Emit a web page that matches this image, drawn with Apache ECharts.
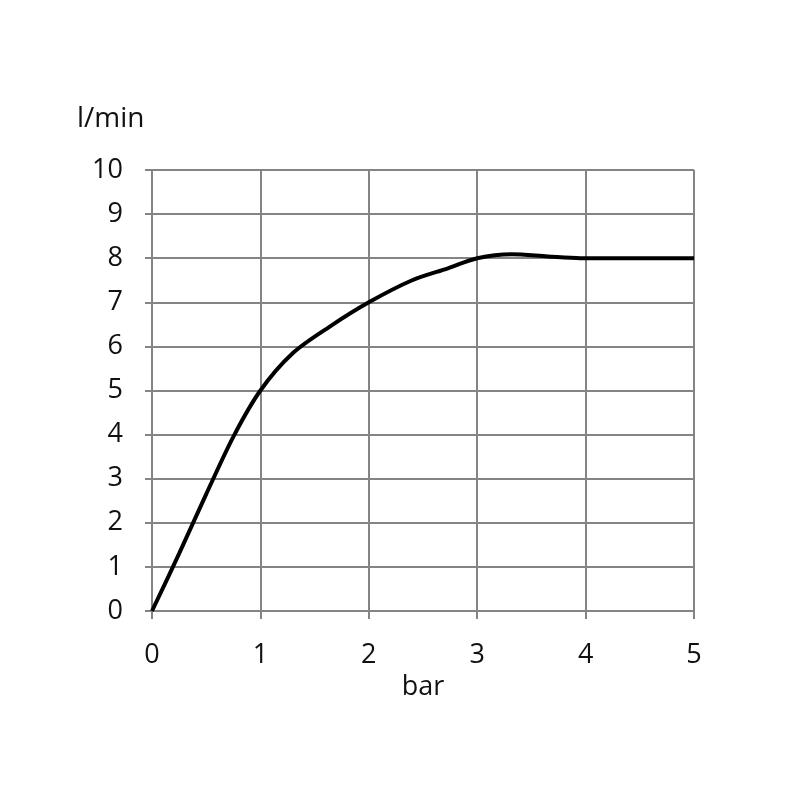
<!DOCTYPE html>
<html>
<head>
<meta charset="utf-8">
<script src="https://cdn.jsdelivr.net/npm/echarts@6/dist/echarts.min.js"></script>
<style>
  html, body { margin: 0; padding: 0; background: #fff; }
  #chart { width: 800px; height: 800px; }
</style>
</head>
<body>
<div id="chart"></div>
<script>
// pressure (bar) vs flow (l/min)
const pressure = [0, 0.25, 0.5, 0.75, 1.0, 1.3, 1.64, 2.0, 2.4, 2.73, 3.0, 3.32, 3.65, 3.95, 4.5, 5.0];
const flow     = [0, 1.3, 2.65, 3.95, 5.0, 5.85, 6.45, 7.0, 7.5, 7.77, 8.0, 8.09, 8.04, 8.0, 8.0, 8.0];

const xLabel = 'bar';
const yLabel = 'l/min';

const gridColor = '#848484';
const font = 'Open Sans';

let chart = echarts.init(document.getElementById('chart'));
let option = {
  animation: false,
  backgroundColor: '#fff',
  grid: {
    left: 152,
    right: 106,
    top: 170,
    bottom: 189
  },
  graphic: [
    {
      type: 'text',
      left: 77,
      top: 105,
      style: {
        text: yLabel,
        font: '28px "' + font + '"',
        fill: '#111'
      }
    }
  ],
  xAxis: {
    type: 'value',
    min: 0,
    max: 5,
    interval: 1,
    name: xLabel,
    nameLocation: 'middle',
    nameGap: 60,
    nameTextStyle: { fontFamily: font, fontSize: 27, color: '#111' },
    axisLine: { show: true, lineStyle: { color: gridColor, width: 2 } },
    axisTick: { show: true, length: 8, lineStyle: { color: gridColor, width: 2 } },
    axisLabel: { margin: 31, fontFamily: font, fontSize: 27, color: '#111' },
    splitLine: { show: true, lineStyle: { color: gridColor, width: 2 } }
  },
  yAxis: {
    type: 'value',
    min: 0,
    max: 10,
    interval: 1,
    axisLine: { show: true, lineStyle: { color: gridColor, width: 2 } },
    axisTick: { show: true, length: 7, lineStyle: { color: gridColor, width: 2 } },
    axisLabel: { margin: 29, fontFamily: font, fontSize: 27, color: '#111' },
    splitLine: { show: true, lineStyle: { color: gridColor, width: 2 } }
  },
  series: [
    {
      type: 'line',
      data: pressure.map((p, i) => [p, flow[i]]),
      smooth: 0.3,
      showSymbol: false,
      lineStyle: { color: '#000', width: 4 }
    }
  ]
};
chart.setOption(option);
</script>
</body>
</html>
